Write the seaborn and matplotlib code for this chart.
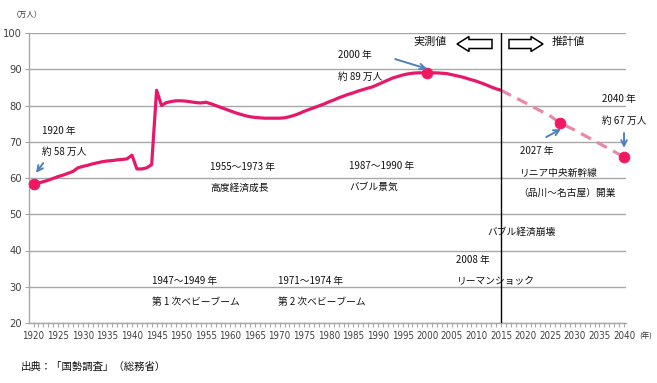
import numpy as np
import pandas as pd
import matplotlib
matplotlib.use("Agg")
import matplotlib.pyplot as plt
from matplotlib import font_manager
from matplotlib.patches import Polygon
from matplotlib.ticker import MultipleLocator
import seaborn as sns

# ---------------- data ----------------
years_actual = list(range(1920, 2016))
pop_actual = [
    58.3, 58.6, 59.0, 59.4, 59.9, 60.4, 60.8, 61.3, 61.8, 62.8,   # 1920-1929
    63.2, 63.5, 63.9, 64.2, 64.5, 64.7, 64.8, 65.0, 65.1, 65.3,   # 1930-1939
    66.3, 62.5, 62.5, 62.8, 63.7, 84.2, 80.0, 80.8, 81.1, 81.3,   # 1940-1949
    81.3, 81.2, 81.0, 80.8, 80.7, 80.9, 80.5, 80.0, 79.5, 79.0,   # 1950-1959
    78.5, 78.0, 77.6, 77.2, 76.9, 76.7, 76.6, 76.5, 76.5, 76.5,   # 1960-1969
    76.5, 76.6, 76.9, 77.3, 77.8, 78.4, 78.9, 79.4, 79.9, 80.4,   # 1970-1979
    81.0, 81.5, 82.1, 82.6, 83.1, 83.5, 84.0, 84.4, 84.8, 85.2,   # 1980-1989
    85.8, 86.4, 87.0, 87.6, 88.0, 88.4, 88.7, 88.9, 89.0, 89.0,   # 1990-1999
    89.0, 89.0, 89.0, 88.9, 88.8, 88.5, 88.2, 87.9, 87.5, 87.1,   # 2000-2009
    86.7, 86.2, 85.7, 85.1, 84.6, 84.2,                           # 2010-2015
]
years_proj = [2015, 2020, 2025, 2027, 2030, 2035, 2040]
pop_proj = [84.2, 80.7, 77.1, 75.2, 73.2, 69.5, 65.8]

marker_years = [1920, 2000, 2027, 2040]
marker_pop = [58.3, 89.0, 75.2, 65.8]

yticks = [20, 30, 40, 50, 60, 70, 80, 90, 100]
xticks = list(range(1920, 2041, 5))

df_a = pd.DataFrame({"year": years_actual, "pop": pop_actual})
df_p = pd.DataFrame({"year": years_proj, "pop": pop_proj})
df_m = pd.DataFrame({"year": marker_years, "pop": marker_pop})

# ---------------- style ----------------
sns.set_style("white")
fl = font_manager.fontManager.ttflist
cond = [f for f in fl if f.name == "DejaVu Sans" and "ondensed" in f.fname
        and "Bold" not in f.fname and "Oblique" not in f.fname]
if cond:
    num_fp = font_manager.FontProperties(fname=cond[0].fname, size=7.0)
    xsize = 7.0
else:
    num_fp = font_manager.FontProperties(family="Liberation Sans", size=6.4)
    xsize = 6.4
JP = ["Noto Sans CJK JP", "DejaVu Sans"]
plt.rcParams["font.family"] = JP

W, H = 657, 383
fig = plt.figure(figsize=(W / 100, H / 100), dpi=100)
ax = fig.add_axes([29 / W, 1 - 323 / H, (626 - 29) / W, (323 - 33) / H])

LINE = "#E5186B"
DASH = "#E888AB"
MARK = "#F01860"
ARROW = "#4F81BD"
GRID = "#A8A8A8"

sns.lineplot(data=df_a, x="year", y="pop", ax=ax, color=LINE, lw=2.3, zorder=3)
sns.lineplot(data=df_p, x="year", y="pop", ax=ax, color=DASH, lw=2.3,
             zorder=3, dashes=False, linestyle=(0, (3.5, 2.2)))
sns.scatterplot(data=df_m, x="year", y="pop", ax=ax, color=MARK, s=60,
                edgecolor=MARK, zorder=5, clip_on=False)

ax.set_xlim(1919.07, 2040.4)
ax.set_ylim(20, 100)
ax.set_xlabel("")
ax.set_ylabel("")
ax.set_yticks(yticks)
ax.set_xticks(xticks)
ax.xaxis.set_minor_locator(MultipleLocator(1))
ax.yaxis.grid(True, color=GRID, lw=1)
for s in ["top", "right"]:
    ax.spines[s].set_visible(False)
for s in ["left", "bottom"]:
    ax.spines[s].set_color(GRID)
    ax.spines[s].set_linewidth(1)
ax.tick_params(axis="x", which="both", direction="out", length=3, color=GRID,
               bottom=True, width=0.8)
ax.tick_params(axis="y", which="both", direction="out", length=3, color=GRID,
               left=True, width=0.8)
for lab in ax.get_xticklabels():
    lab.set_fontproperties(num_fp)
    lab.set_fontsize(xsize)
    lab.set_color("#404040")
for lab in ax.get_yticklabels():
    lab.set_fontproperties(num_fp)
    lab.set_fontsize(xsize + 1.0)
    lab.set_color("#404040")
ax.tick_params(axis="x", pad=3)
ax.tick_params(axis="y", pad=2)

ax.axvline(2015, color="black", lw=1, zorder=4)

# ---------------- annotations ----------------
def t(x, y, s, size=7):
    ax.text(x, y, s, fontsize=size, ha="left", va="center", color="#111111",
            family=JP, zorder=6, clip_on=False)

t(1921.7, 73.0, "1920 年")
t(1921.7, 67.2, "約 58 万人")
t(1955.9, 63.0, "1955～1973 年")
t(1955.9, 57.2, "高度経済成長")
t(1984.1, 63.3, "1987～1990 年")
t(1984.1, 57.5, "バブル景気")
t(1981.9, 93.9, "2000 年")
t(1981.9, 87.9, "約 89 万人")
t(1997.1, 97.5, "実測値", 8)
t(2025.2, 97.5, "推計値", 8)
t(2035.5, 81.8, "2040 年")
t(2035.5, 75.7, "約 67 万人")
t(2018.9, 67.4, "2027 年")
t(2018.9, 61.4, "リニア中央新幹線")
t(2018.6, 55.9, "（品川～名古屋）開業")
t(2012.3, 45.1, "バブル経済崩壊")
t(2005.9, 37.4, "2008 年")
t(2006.1, 31.6, "リーマンショック")
t(1944.1, 31.6, "1947～1949 年")
t(1944.1, 25.8, "第 1 次ベビーブーム")
t(1969.7, 31.6, "1971～1974 年")
t(1969.7, 25.8, "第 2 次ベビーブーム")

def arr(x0, y0, x1, y1):
    ax.annotate("", xy=(x1, y1), xytext=(x0, y0),
                arrowprops=dict(arrowstyle="->", color=ARROW, lw=1.4,
                                mutation_scale=10, shrinkA=0, shrinkB=0),
                zorder=6, annotation_clip=False)

arr(1921.95, 64.1, 1920.5, 61.4)
arr(1993.5, 92.8, 2000.0, 90.1)
arr(2024.2, 71.3, 2027.2, 73.5)
arr(2040.0, 72.4, 2040.0, 68.3)

# hollow block arrows (pixel layout)
def block_arrow(x_tail, x_tip, yc, shaft=9, head=15, head_len=12):
    d = 1 if x_tip > x_tail else -1
    xb = x_tip - d * head_len
    pts = [(x_tail, yc - shaft / 2), (xb, yc - shaft / 2), (xb, yc - head / 2),
           (x_tip, yc), (xb, yc + head / 2), (xb, yc + shaft / 2),
           (x_tail, yc + shaft / 2)]
    pts = [(px / W, 1 - py / H) for px, py in pts]
    fig.patches.append(Polygon(pts, closed=True, transform=fig.transFigure,
                               facecolor="white", edgecolor="black", lw=1.1,
                               zorder=7))

block_arrow(492, 457, 44)
block_arrow(509, 543, 44)

fig.text(12 / W, 1 - 15 / H, "（万人）", fontsize=5.5, ha="left", va="center",
         color="#333333", family=JP)
fig.text(639 / W, 1 - 337 / H, "(年)", fontsize=5.5, ha="left", va="center",
         color="#333333", family=JP)
fig.text(21 / W, 1 - 367 / H, "出典：「国勢調査」（総務省）", fontsize=7.5,
         ha="left", va="center", color="#111111", family=JP)

fig.savefig("out.png", dpi=100)
